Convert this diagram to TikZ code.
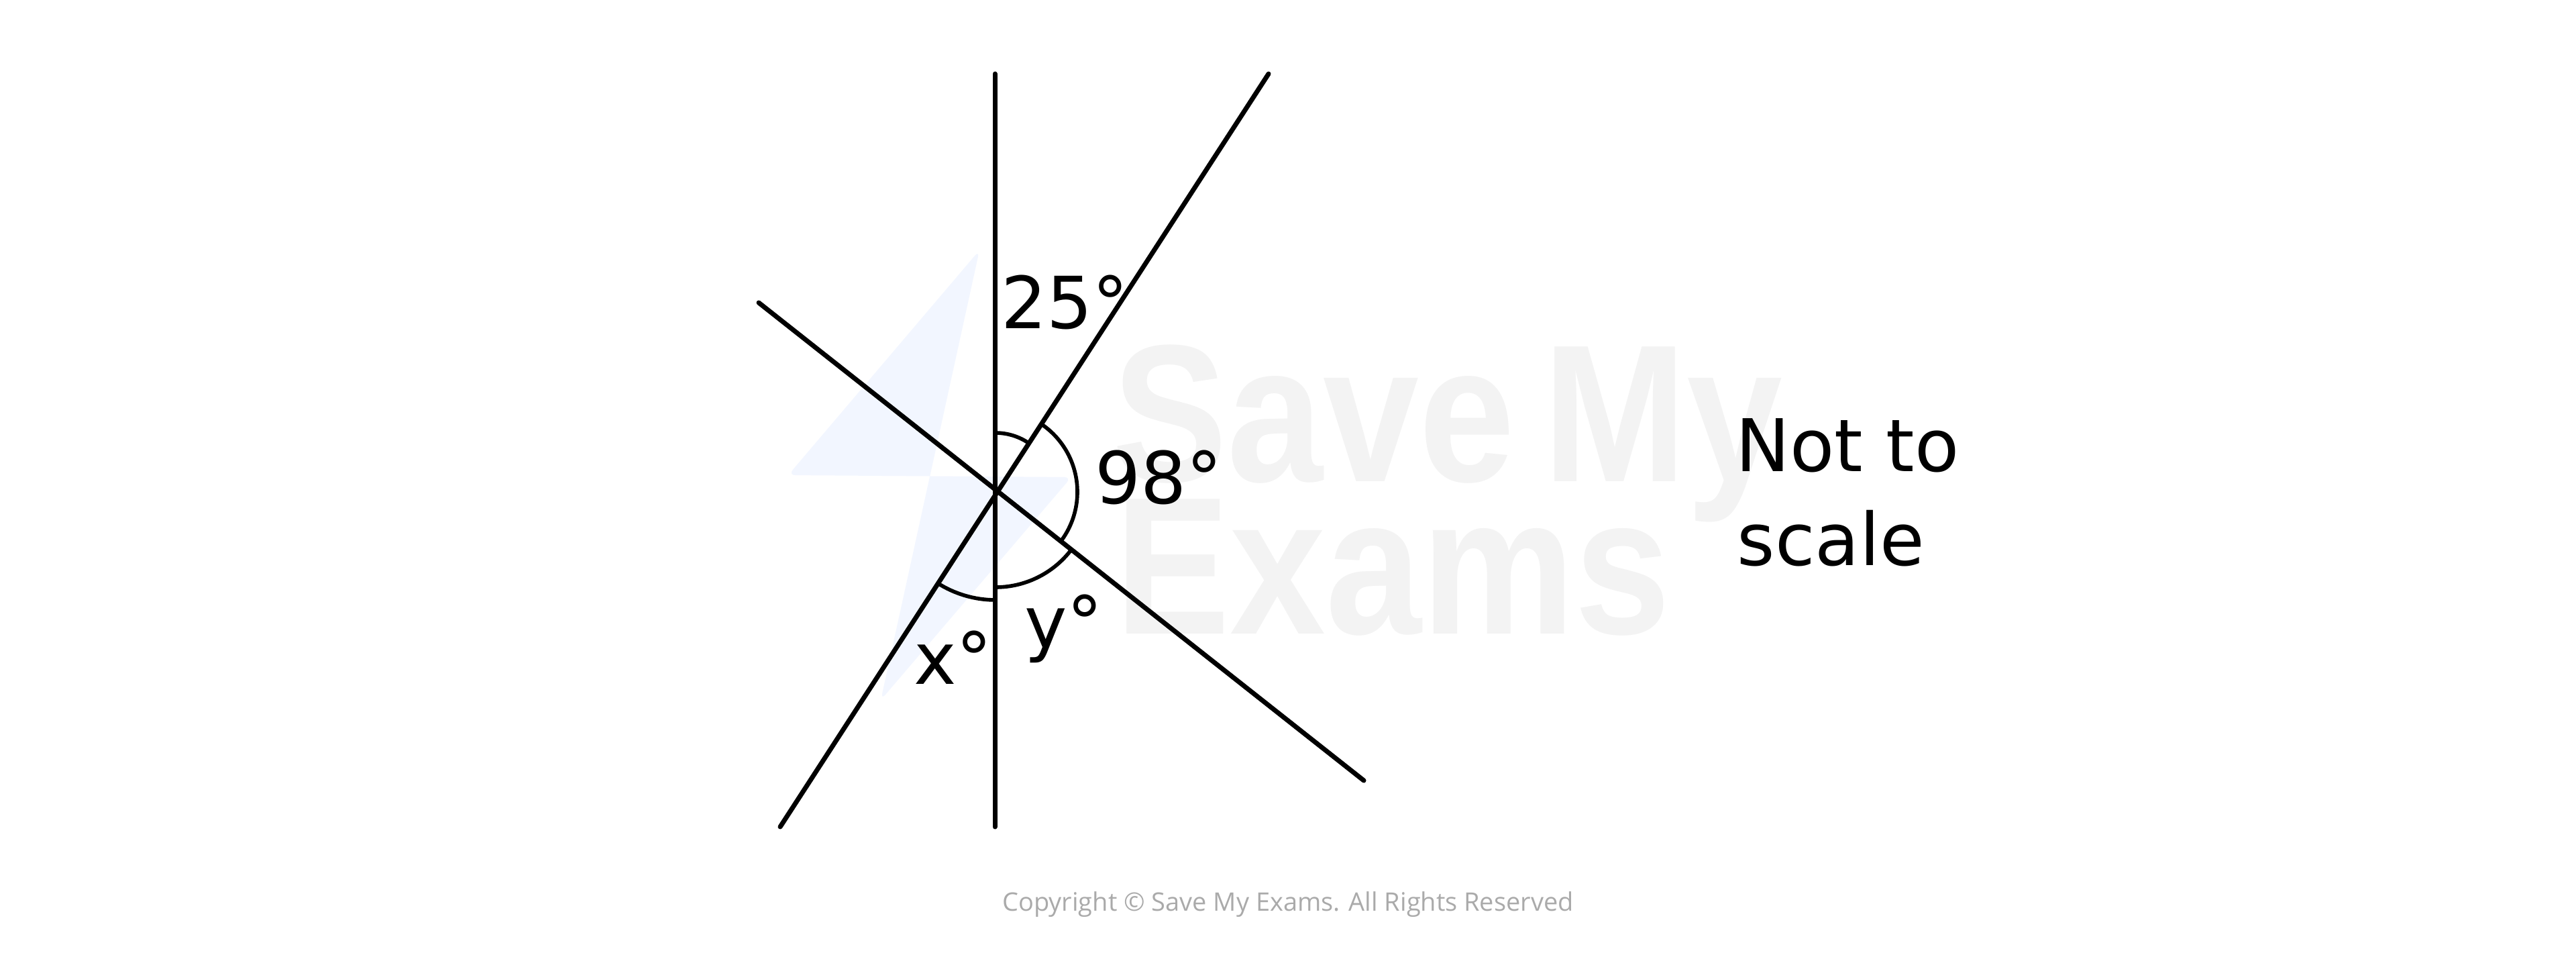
\documentclass[tikz,border=0pt]{standalone}
\usepackage{fontspec}
\setmainfont{DejaVu Sans}
\newfontfamily\copyfont{Open Sans}
\newfontfamily\markfont{Liberation Sans}
\definecolor{boltblue}{RGB}{242,246,255}
\definecolor{markgray}{RGB}{243,243,243}
\definecolor{copygray}{RGB}{170,170,170}
\begin{document}
\begin{tikzpicture}[
  edgeline/.style={line width=2pt,line cap=round},
  anglemark/.style={line width=1.6pt},
  anglelabel/.style={inner sep=0pt,anchor=base,font=\fontsize{30.5}{36}\selectfont}]
\fill[white] (0,0) rectangle (38.4,14.19);
\useasboundingbox (0,0) rectangle (38.4,14.19);
% watermark
\fill[boltblue,rounded corners=3pt] (14.60,10.46) -- (11.75,7.11) -- (15.97,7.08) -- (13.13,3.76) -- cycle;
\node[markgray,inner sep=0pt,anchor=base west,xscale=0.88,font=\fontsize{83}{90}\markfont\bfseries] (wmsave) at (16.58,7.02) {Save\,My};
\node[markgray,inner sep=0pt,anchor=base west,xscale=0.88,font=\fontsize{83}{90}\markfont\bfseries] (wmexams) at (16.62,4.75) {Exams};
% points
\coordinate (O) at (14.84,6.86);
\coordinate (vtop) at (14.83,13.09);
\coordinate (vbot) at (14.83,1.87);
\coordinate (a1) at (11.63,1.87);
\coordinate (a2) at (18.91,13.09);
\coordinate (b1) at (11.31,9.68);
\coordinate (b2) at (20.33,2.56);
% drawing lines
\draw[edgeline] (vtop) -- (vbot);
\draw[edgeline] (a1) -- (a2);
\draw[edgeline] (b1) -- (b2);
% drawing angle marks
\draw[anglemark] ([shift={(90:0.88)}]O) arc[start angle=90,end angle=57,radius=0.88];
\draw[anglemark] ([shift={(57:1.22)}]O) arc[start angle=57,end angle=-38,radius=1.22];
\draw[anglemark] ([shift={(-38:1.42)}]O) arc[start angle=-38,end angle=-90,radius=1.42];
\draw[anglemark] ([shift={(-90:1.61)}]O) arc[start angle=-90,end angle=-123,radius=1.61];
% labels
\node[anglelabel] (lab25) at (15.87,9.30) {25°};
\node[anglelabel] (lab98) at (17.27,6.69) {98°};
\node[anglelabel] (labx) at (14.21,4.00) {x°};
\node[anglelabel] (laby) at (15.86,4.54) {y°};
\node[inner sep=0pt,anchor=base west,font=\fontsize{30.8}{36}\selectfont] (nottext) at (25.87,7.17) {Not to};
\node[inner sep=0pt,anchor=base west,font=\fontsize{30.8}{36}\selectfont] (scaletext) at (25.89,5.77) {scale};
\node[copygray,inner sep=0pt,anchor=base,font=\fontsize{10.8}{13}\copyfont] (copyright) at (19.20,0.62) {Copyright © Save My Exams. All Rights Reserved};
\end{tikzpicture}
\end{document}
